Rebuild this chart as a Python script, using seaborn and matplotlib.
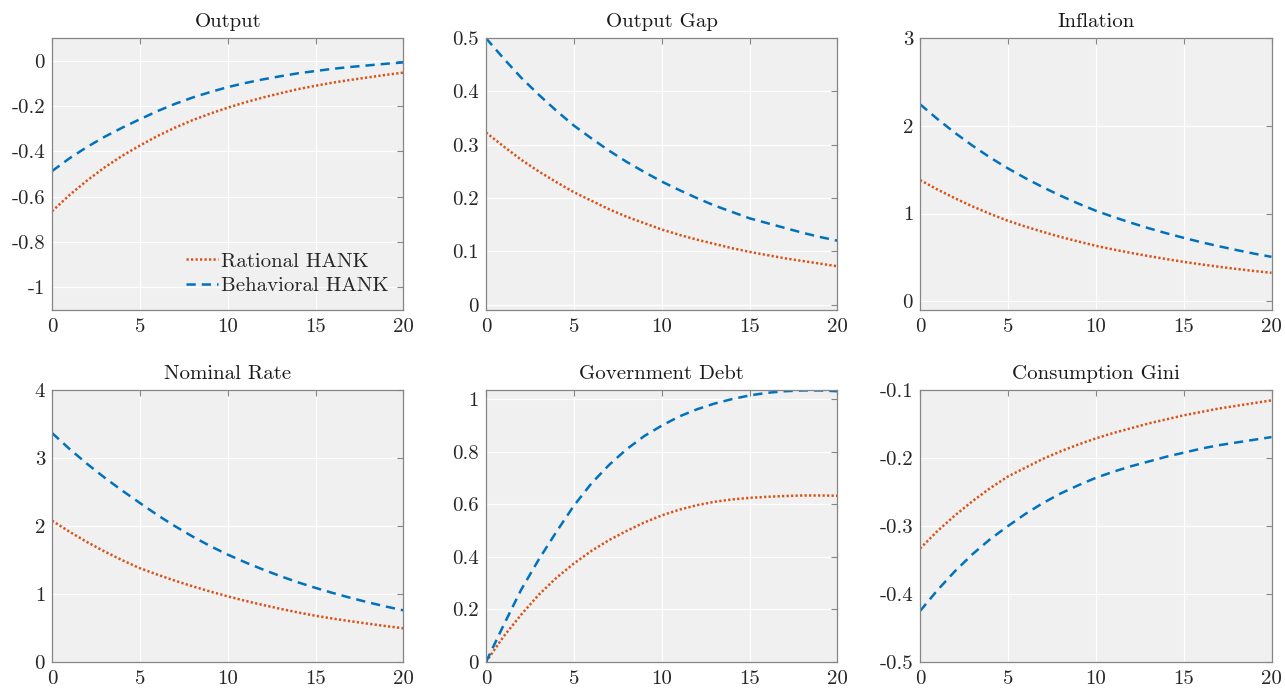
import matplotlib
matplotlib.use("Agg")
import matplotlib.pyplot as plt
import seaborn as sns
import numpy as np
from matplotlib.ticker import FuncFormatter

# horizon (quarters)
t = list(range(21))

# impulse responses
output_rat = [-0.664, -0.592, -0.528, -0.470, -0.419, -0.374, -0.332, -0.295, -0.262, -0.233, -0.207,
              -0.183, -0.162, -0.143, -0.125, -0.110, -0.096, -0.084, -0.073, -0.062, -0.052]
output_beh = [-0.487, -0.430, -0.380, -0.335, -0.295, -0.258, -0.222, -0.190, -0.162, -0.138, -0.116,
              -0.098, -0.082, -0.068, -0.055, -0.045, -0.035, -0.027, -0.020, -0.013, -0.007]

gap_rat = [0.323, 0.297, 0.272, 0.250, 0.230, 0.211, 0.195, 0.179, 0.165, 0.153, 0.141,
           0.131, 0.122, 0.114, 0.106, 0.099, 0.093, 0.087, 0.082, 0.077, 0.072]
gap_beh = [0.500, 0.462, 0.426, 0.394, 0.364, 0.336, 0.312, 0.289, 0.268, 0.249, 0.231,
           0.215, 0.200, 0.186, 0.174, 0.162, 0.153, 0.144, 0.135, 0.127, 0.120]

infl_rat = [1.382, 1.273, 1.173, 1.080, 0.995, 0.917, 0.851, 0.790, 0.733, 0.681, 0.632,
            0.590, 0.551, 0.515, 0.481, 0.449, 0.420, 0.393, 0.368, 0.345, 0.324]
infl_beh = [2.246, 2.076, 1.918, 1.772, 1.637, 1.515, 1.403, 1.299, 1.203, 1.114, 1.032,
            0.961, 0.895, 0.833, 0.776, 0.723, 0.673, 0.627, 0.584, 0.543, 0.506]

rate_rat = [2.080, 1.916, 1.764, 1.625, 1.497, 1.380, 1.285, 1.196, 1.114, 1.037, 0.966,
            0.900, 0.839, 0.782, 0.729, 0.680, 0.638, 0.599, 0.563, 0.528, 0.496]
rate_beh = [3.370, 3.134, 2.915, 2.711, 2.521, 2.340, 2.162, 1.998, 1.846, 1.706, 1.580,
            1.466, 1.361, 1.263, 1.172, 1.090, 1.014, 0.943, 0.877, 0.816, 0.760]

debt_rat = [0.000, 0.097, 0.180, 0.256, 0.320, 0.375, 0.423, 0.464, 0.499, 0.531, 0.558,
            0.580, 0.597, 0.610, 0.619, 0.625, 0.629, 0.632, 0.634, 0.634, 0.633]
debt_beh = [0.000, 0.140, 0.275, 0.390, 0.495, 0.595, 0.680, 0.750, 0.810, 0.860, 0.900,
            0.935, 0.962, 0.984, 1.001, 1.015, 1.025, 1.031, 1.034, 1.034, 1.031]

gini_rat = [-0.333, -0.307, -0.284, -0.263, -0.244, -0.227, -0.214, -0.201, -0.190, -0.180, -0.171,
            -0.163, -0.156, -0.149, -0.143, -0.137, -0.132, -0.127, -0.123, -0.119, -0.115]
gini_beh = [-0.425, -0.394, -0.366, -0.341, -0.319, -0.300, -0.282, -0.266, -0.252, -0.240, -0.229,
            -0.220, -0.212, -0.205, -0.198, -0.192, -0.186, -0.181, -0.177, -0.173, -0.169]

titles = ['Output', 'Output Gap', 'Inflation', 'Nominal Rate', 'Government Debt', 'Consumption Gini']
rational = [output_rat, gap_rat, infl_rat, rate_rat, debt_rat, gini_rat]
behavioral = [output_beh, gap_beh, infl_beh, rate_beh, debt_beh, gini_beh]
ylims = [(-1.1, 0.1), (-0.01, 0.5), (-0.1, 3), (0, 4), (0, 1.035), (-0.5, -0.1)]
yticks = [[-1, -0.8, -0.6, -0.4, -0.2, 0], [0, 0.1, 0.2, 0.3, 0.4, 0.5], [0, 1, 2, 3],
          [0, 1, 2, 3, 4], [0, 0.2, 0.4, 0.6, 0.8, 1], [-0.5, -0.4, -0.3, -0.2, -0.1]]

sns.set_style("white")
plt.rcParams['font.family'] = ['cmr10', 'DejaVu Serif']
plt.rcParams['axes.unicode_minus'] = False
plt.rcParams['mathtext.fontset'] = 'cm'

red = '#D95319'
blue = '#0072BD'
edge = '#858585'

fig = plt.figure(figsize=(12.85, 6.89), dpi=100)
lefts = [0.0405, 0.3782, 0.7160]
bottoms = [0.5501, 0.0392]
w, h = 0.2735, 0.3945


def tick_fmt(v, pos):
    if abs(v) < 1e-9:
        return '0'
    return '%g' % round(v, 4)


for i in range(6):
    r, c = divmod(i, 3)
    ax = fig.add_axes([lefts[c], bottoms[r], w, h])
    ax.set_facecolor('#F0F0F0')
    sns.lineplot(x=t, y=rational[i], ax=ax, color=red, lw=1.8,
                 linestyle=(0, (0.9, 0.9)), label='Rational HANK')
    sns.lineplot(x=t, y=behavioral[i], ax=ax, color=blue, lw=1.8,
                 linestyle=(0, (3.7, 2.4)), label='Behavioral HANK')
    ax.set_xlim(0, 20)
    ax.set_ylim(*ylims[i])
    ax.set_xticks([0, 5, 10, 15, 20])
    ax.set_yticks(yticks[i])
    ax.xaxis.set_major_formatter(FuncFormatter(tick_fmt))
    ax.yaxis.set_major_formatter(FuncFormatter(tick_fmt))
    ax.grid(True, color='white', lw=0.9)
    ax.set_axisbelow(True)
    for s in ax.spines.values():
        s.set_color(edge)
        s.set_linewidth(0.9)
    ax.tick_params(direction='in', length=4, width=0.8, color=edge,
                   top=True, right=True, labelsize=15, labelcolor='#262626')
    ax.tick_params(axis='x', pad=6)
    ax.tick_params(axis='y', pad=5)
    ax.set_title(titles[i], fontsize=15, color='#1a1a1a', pad=8)
    ax.set_xlabel('')
    ax.set_ylabel('')
    if i == 0:
        ax.legend(loc='lower right', frameon=False, fontsize=15, handlelength=1.55,
                  handletextpad=0.15, labelspacing=0.3, borderaxespad=0.3)
    else:
        ax.get_legend().remove()

fig.savefig('out.png', dpi=100)
